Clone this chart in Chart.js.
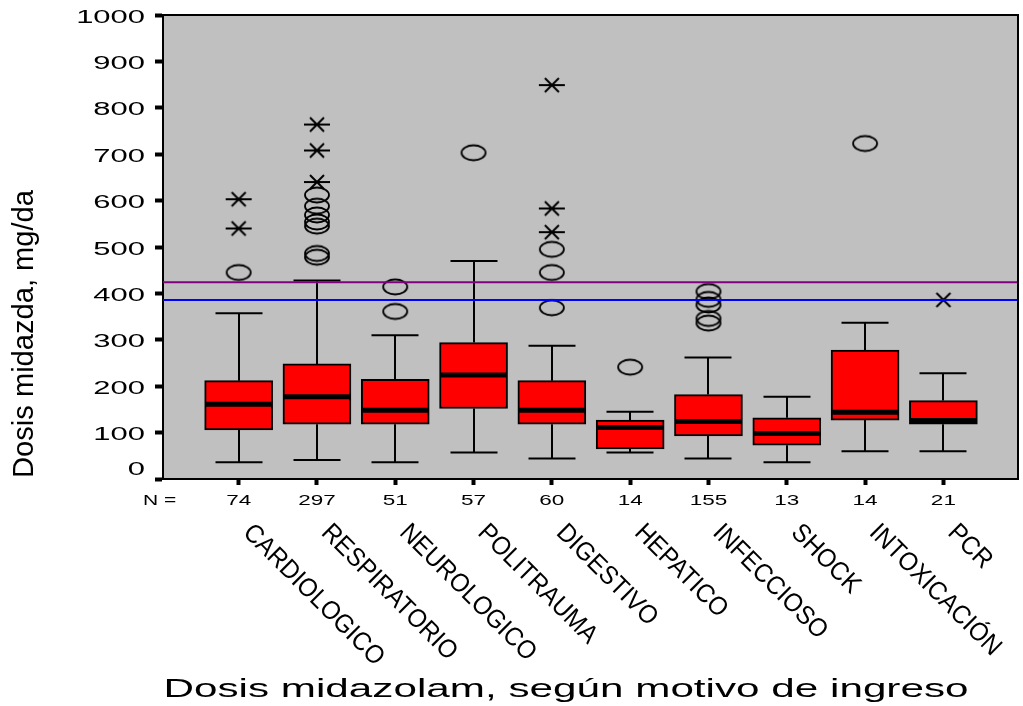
<!DOCTYPE html>
<html>
<head>
<meta charset="utf-8">
<script src="https://cdn.jsdelivr.net/npm/chart.js@4.4.1/dist/chart.umd.min.js"></script>
<style>
	html, body { margin: 0; padding: 0; background: #fff; }
	canvas { display: block; }
</style>
</head>
<body>
<canvas id="chart" width="1023" height="706"></canvas>
<script>
// #region Data
const categories = [
	`CARDIOLOGICO`, `RESPIRATORIO`, `NEUROLOGICO`, `POLITRAUMA`, `DIGESTIVO`,
	`HEPATICO`, `INFECCIOSO`, `SHOCK`, `INTOXICACIÓN`, `PCR`,
];
const counts = [74, 297, 51, 57, 60, 14, 155, 13, 14, 21];

const whiskerLow  = [36, 41, 36, 57, 44, 57, 44, 36, 60, 60];
const q1          = [106, 118, 118, 152, 118, 65, 93, 73, 127, 118];
const medians     = [161, 177, 148, 224, 148, 111, 124, 98, 144, 126];
const q3          = [212, 248, 215, 294, 212, 127, 182, 132, 278, 169];
const whiskerHigh = [357, 428, 310, 470, 287, 145, 262, 177, 337, 228];

// circles = outliers, asterisks = extreme values
const outliers = [
	[445],
	[612, 588, 569, 554, 545, 486, 478],
	[414, 361],
	[703],
	[495, 445, 369],
	[241],
	[404, 387, 375, 346, 336],
	[],
	[723],
	[],
];
const extremes = [
	[603, 540],
	[764, 708, 640],
	[],
	[],
	[849, 583, 532],
	[],
	[],
	[],
	[],
	[386],
];

const referenceLines = [424, 386];
const yTicks = [0, 100, 200, 300, 400, 500, 600, 700, 800, 900, 1000];
// #endregion

const FONT = `"Liberation Sans", Arial, sans-serif`;
const BOX_WIDTH = 68;
const CAP_WIDTH = 47;

function makeCircle() {
	const c = document.createElement(`canvas`);
	c.width = 28;
	c.height = 20;
	const ctx = c.getContext(`2d`);
	ctx.strokeStyle = `#000`;
	ctx.lineWidth = 1.8;
	ctx.beginPath();
	ctx.ellipse(14, 10, 12, 7.5, 0, 0, Math.PI * 2);
	ctx.stroke();
	return c;
};

function makeAsterisk() {
	const c = document.createElement(`canvas`);
	c.width = 28;
	c.height = 18;
	const ctx = c.getContext(`2d`);
	ctx.strokeStyle = `#000`;
	ctx.lineWidth = 2;
	ctx.beginPath();
	ctx.moveTo(1, 9);
	ctx.lineTo(27, 9);
	ctx.moveTo(7, 2);
	ctx.lineTo(21, 16);
	ctx.moveTo(21, 2);
	ctx.lineTo(7, 16);
	ctx.stroke();
	return c;
};

function drawText(ctx, text, x, y, { size, scaleX = 1, width, align = `left`, rotate = 0, weight = `normal` }) {
	ctx.save();
	ctx.font = `${weight} ${size}px ${FONT}`;
	ctx.fillStyle = `#000`;
	const sx = width ? width / ctx.measureText(text).width : scaleX;
	ctx.translate(x, y);
	ctx.rotate(rotate);
	ctx.scale(sx, 1);
	ctx.textAlign = align;
	ctx.textBaseline = `alphabetic`;
	ctx.fillText(text, 0, 0);
	ctx.restore();
};

const boxPlotPlugin = {
	id: `boxPlot`,
	beforeDraw(chart) {
		const { ctx, chartArea: a } = chart;
		ctx.save();
		ctx.fillStyle = `#c0c0c0`;
		ctx.fillRect(a.left, a.top, a.right - a.left, a.bottom - a.top);
		ctx.restore();
	},
	beforeDatasetsDraw(chart) {
		const { ctx, scales: { x, y } } = chart;
		ctx.save();
		ctx.strokeStyle = `#000`;
		ctx.lineWidth = 2;
		categories.forEach((_, i) => {
			const px = Math.round(x.getPixelForValue(i + 1));
			const lo = y.getPixelForValue(whiskerLow[i]);
			const hi = y.getPixelForValue(whiskerHigh[i]);
			ctx.beginPath();
			ctx.moveTo(px, lo);
			ctx.lineTo(px, y.getPixelForValue(q1[i]));
			ctx.moveTo(px, y.getPixelForValue(q3[i]));
			ctx.lineTo(px, hi);
			ctx.moveTo(px - CAP_WIDTH / 2, lo);
			ctx.lineTo(px + CAP_WIDTH / 2, lo);
			ctx.moveTo(px - CAP_WIDTH / 2, hi);
			ctx.lineTo(px + CAP_WIDTH / 2, hi);
			ctx.stroke();
		});
		ctx.restore();
	},
	afterDatasetsDraw(chart) {
		const { ctx, chartArea: a, scales: { x, y } } = chart;
		ctx.save();
		ctx.strokeStyle = `#000`;
		ctx.lineWidth = 5;
		categories.forEach((_, i) => {
			const px = x.getPixelForValue(i + 1);
			const py = y.getPixelForValue(medians[i]);
			ctx.beginPath();
			ctx.moveTo(px - BOX_WIDTH / 2 + 1, py);
			ctx.lineTo(px + BOX_WIDTH / 2 - 1, py);
			ctx.stroke();
		});
		// frame on the top and right
		ctx.lineWidth = 2;
		ctx.beginPath();
		ctx.moveTo(a.left, a.top);
		ctx.lineTo(a.right, a.top);
		ctx.lineTo(a.right, a.bottom);
		ctx.stroke();
		ctx.restore();
	},
	afterDraw(chart) {
		const { ctx, chartArea: a, scales: { x, y } } = chart;

		for (const v of yTicks) {
			const py = Math.min(y.getPixelForValue(v) + 7.5, a.bottom - 4.5);
			drawText(ctx, String(v), 145, py, { size: 18, scaleX: 1.72, align: `right` });
		};

		drawText(ctx, `N =`, 143, 505, { size: 15, scaleX: 1.4 });
		counts.forEach((n, i) => {
			drawText(ctx, String(n), x.getPixelForValue(i + 1), 505, { size: 15, scaleX: 1.5, align: `center` });
		});

		categories.forEach((label, i) => {
			const px = x.getPixelForValue(i + 1);
			ctx.save();
			ctx.translate(px + 16, 521);
			ctx.rotate(Math.PI / 4);
			drawText(ctx, label, 0, 18, { size: 26, scaleX: 0.93 });
			ctx.restore();
		});

		drawText(ctx, `Dosis midazda, mg/da`, 33, 334, { size: 29, width: 288, align: `center`, rotate: -Math.PI / 2 });
		drawText(ctx, `Dosis midazolam, según motivo de ingreso`, 566, 697, { size: 26, width: 805, align: `center` });
	},
};

const circle = makeCircle();
const asterisk = makeAsterisk();

const boxData = categories.map((_, i) => ({ x: i + 1, y: [q1[i], q3[i]] }));
const outlierData = outliers.flatMap((vals, i) => vals.map(v => ({ x: i + 1, y: v })));
const extremeData = extremes.flatMap((vals, i) => vals.map(v => ({ x: i + 1, y: v })));
const xMin = 0.034;
const xMax = 10.953;

new Chart(document.getElementById(`chart`), {
	type: `bar`,
	data: {
		datasets: [
			{
				type: `line`,
				data: [{ x: xMin, y: referenceLines[0] }, { x: xMax, y: referenceLines[0] }],
				borderColor: `#800080`,
				borderWidth: 2,
				pointRadius: 0,
				order: 0,
			},
			{
				type: `line`,
				data: [{ x: xMin, y: referenceLines[1] }, { x: xMax, y: referenceLines[1] }],
				borderColor: `#0000ff`,
				borderWidth: 2,
				pointRadius: 0,
				order: 0,
			},
			{
				type: `scatter`,
				data: outlierData,
				pointStyle: circle,
				order: 1,
			},
			{
				type: `scatter`,
				data: extremeData,
				pointStyle: asterisk,
				order: 1,
			},
			{
				type: `bar`,
				data: boxData,
				backgroundColor: `#ff0000`,
				borderColor: `#000`,
				borderWidth: 2,
				borderSkipped: false,
				barThickness: BOX_WIDTH,
				order: 2,
			},
		],
	},
	options: {
		responsive: false,
		animation: false,
		layout: {
			padding: { top: 15, right: 1, left: 0, bottom: 0 },
		},
		plugins: {
			legend: { display: false },
			tooltip: { enabled: false },
		},
		scales: {
			x: {
				type: `linear`,
				offset: false,
				min: xMin,
				max: xMax,
				afterBuildTicks: scale => {
					scale.ticks = categories.map((_, i) => ({ value: i + 1 }));
				},
				afterFit: scale => {
					scale.height = 227;
				},
				ticks: { display: false },
				grid: {
					offset: false,
					drawOnChartArea: false,
					tickLength: 6,
					tickWidth: 4,
					tickColor: `#000`,
				},
				border: { color: `#000`, width: 2 },
			},
			y: {
				min: 0,
				max: 1000,
				afterBuildTicks: scale => {
					scale.ticks = yTicks.map(v => ({ value: v }));
				},
				afterFit: scale => {
					scale.width = 163;
				},
				ticks: { display: false },
				grid: {
					drawOnChartArea: false,
					tickLength: 8,
					tickWidth: 4,
					tickColor: `#000`,
				},
				border: { color: `#000`, width: 2 },
			},
		},
	},
	plugins: [boxPlotPlugin],
});
</script>
</body>
</html>
